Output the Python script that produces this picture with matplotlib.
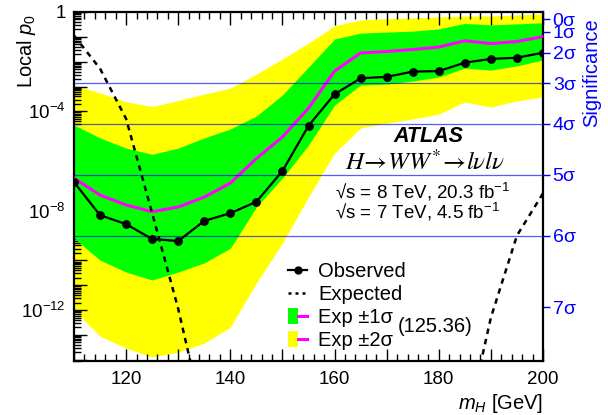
import math
import numpy as np
import matplotlib
matplotlib.use('Agg')
import matplotlib.pyplot as plt
from matplotlib.lines import Line2D
from matplotlib.patches import Patch
from matplotlib.legend_handler import HandlerTuple
from matplotlib.ticker import FixedLocator, FuncFormatter, NullFormatter, MultipleLocator, NullLocator

plt.rcParams['font.family'] = ['Liberation Sans', 'DejaVu Sans']
plt.rcParams['mathtext.fontset'] = 'custom'
plt.rcParams['mathtext.rm'] = 'Liberation Sans'
plt.rcParams['mathtext.it'] = 'Liberation Sans:italic'
plt.rcParams['mathtext.bf'] = 'Liberation Sans:bold'

# ---------------- data (log10 of local p0) ----------------
mass = [110, 115, 120, 125, 130, 135, 140, 145, 150, 155, 160, 165, 170, 175, 180, 185, 190, 195, 200]
obs_log10 = [-6.85, -8.18, -8.54, -9.14, -9.22, -8.41, -8.10, -7.64, -6.40, -4.58, -3.31,
             -2.67, -2.61, -2.40, -2.38, -2.04, -1.89, -1.84, -1.64]
exp_log10 = [-0.95, -2.28, -4.30, -8.10, -11.95, -16.5, -20.0, -23.0, -25.0, -27.0, -28.0,
             -28.0, -27.0, -25.0, -22.0, -17.0, -12.3, -9.0, -7.3]
med125_log10 = [-6.69, -7.37, -7.77, -8.04, -7.85, -7.45, -6.89, -5.90, -5.03, -3.87, -2.38,
                -1.65, -1.59, -1.51, -1.41, -1.16, -1.27, -1.19, -0.99]
up1_log10 = [-4.55, -5.07, -5.48, -5.73, -5.48, -5.07, -4.71, -4.19, -3.34, -2.22, -1.09,
             -0.85, -0.81, -0.77, -0.68, -0.46, -0.52, -0.48, -0.43]
dn1_log10 = [-9.10, -9.99, -10.47, -10.79, -10.47, -10.10, -9.51, -7.85, -6.69, -5.36, -3.75,
             -2.94, -2.90, -2.78, -2.62, -2.26, -2.34, -2.17, -1.93]
up2_log10 = [-2.94, -3.26, -3.61, -3.81, -3.56, -3.31, -3.06, -2.50, -1.89, -1.25, -0.56,
             -0.32, -0.26, -0.24, -0.20, -0.16, -0.16, -0.12, -0.08]
dn2_log10 = [-12.0, -13.05, -13.53, -13.89, -13.69, -13.33, -12.69, -10.91, -9.30, -7.45, -5.68,
             -4.67, -4.47, -4.31, -4.11, -3.62, -3.83, -3.58, -3.42]

sigma_levels = [0, 1, 2, 3, 4, 5, 6, 7]
sigma_labels = ['0σ', '1σ', '2σ', '3σ', '4σ', '5σ', '6σ', '7σ']
sigma_lines = [3, 4, 5, 6]
xticks_labeled = [120, 140, 160, 180, 200]
yticks_labeled = {0: '1', -4: '$10^{-4}$', -8: '$10^{-8}$', -12: '$10^{-12}$'}

legend_labels = ['Observed', 'Expected', 'Exp ±1σ', 'Exp ±2σ']
mass_label = '(125.36)'

# ---------------- drawing ----------------
def to_p(a):
    return 10.0 ** np.asarray(a, dtype=float)

def sig_to_p(n):
    return 0.5 * math.erfc(n / math.sqrt(2.0))

GREEN = '#00ff00'
YELLOW = '#ffff00'
MAGENTA = '#ff00ff'
BLUE = '#0000ff'

W, H = 608, 415
fig = plt.figure(figsize=(W / 100, H / 100), dpi=100)
L, R, T, B = 74, 543, 12, 361
ax = fig.add_axes([L / W, 1 - B / H, (R - L) / W, (B - T) / H])

ax.set_yscale('log')
ax.set_xlim(110, 200)
ax.set_ylim(10 ** -14.05, 1.0)

ax.fill_between(mass, to_p(dn2_log10), to_p(up2_log10), color=YELLOW, lw=0, zorder=1)
ax.fill_between(mass, to_p(dn1_log10), to_p(up1_log10), color=GREEN, lw=0, zorder=2)
ax.plot(mass, to_p(med125_log10), color=MAGENTA, lw=2.2, zorder=3)

for s in sigma_lines:
    ax.axhline(sig_to_p(s), color=BLUE, lw=0.9, alpha=0.65, zorder=4)

ax.plot(mass, to_p(exp_log10), color='black', lw=1.8, ls=(0, (2.2, 2.0)), zorder=5)
ax.plot(mass, to_p(obs_log10), color='black', lw=1.6, marker='o', ms=5.3, zorder=6)

# axes ticks
ax.xaxis.set_major_locator(MultipleLocator(10))
ax.xaxis.set_minor_locator(MultipleLocator(2))
ax.xaxis.set_major_formatter(FuncFormatter(lambda v, p: ('%d' % round(v)) if round(v) in xticks_labeled else ''))
decades = list(range(-14, 1))
ax.yaxis.set_major_locator(FixedLocator([10.0 ** d for d in decades]))
ax.yaxis.set_minor_locator(FixedLocator([k * 10.0 ** d for d in range(-15, 0) for k in range(2, 10)]))
ax.yaxis.set_minor_formatter(NullFormatter())
ax.yaxis.set_major_formatter(FuncFormatter(lambda v, p: yticks_labeled.get(int(round(math.log10(v))), '')))

ax.tick_params(which='both', direction='in', top=True, right=True, width=1.0, colors='black')
ax.tick_params(which='major', length=9)
ax.tick_params(which='minor', length=5)
ax.tick_params(axis='x', which='major', labelsize=13.5, pad=7)
ax.tick_params(axis='y', which='major', labelsize=13.5, pad=6)
for sp in ax.spines.values():
    sp.set_linewidth(1.6)

# right significance axis
tw = ax.twinx()
tw.set_yscale('log')
tw.set_ylim(ax.get_ylim())
tw.yaxis.set_major_locator(FixedLocator([sig_to_p(s) for s in sigma_levels]))
tw.yaxis.set_minor_locator(NullLocator())
tw.set_yticklabels(sigma_labels)
tw.tick_params(axis='y', which='major', direction='out', length=5, width=1.0, colors=BLUE,
               labelcolor=BLUE, labelsize=14, pad=2)
for sp in tw.spines.values():
    sp.set_visible(False)

# legend
handles = [
    Line2D([], [], color='black', lw=1.6, marker='o', ms=5),
    Line2D([], [], color='black', lw=1.8, ls=(0, (1.2, 1.6))),
    (Patch(facecolor=GREEN, edgecolor='none'), Line2D([], [], color=MAGENTA, lw=2.2)),
    (Patch(facecolor=YELLOW, edgecolor='none'), Line2D([], [], color=MAGENTA, lw=2.2)),
]
leg = ax.legend(handles, legend_labels, loc='upper left',
                bbox_to_anchor=((288 - L) / (R - L), (B - 262) / (B - T)),
                frameon=False, fontsize=14.5, handlelength=0.95, handleheight=0.85,
                handletextpad=0.55, labelspacing=0.2, borderpad=0, borderaxespad=0,
                handler_map={tuple: HandlerTuple(ndivide=None)})
leg.set_zorder(10)

fig.text(398 / W, 1 - 326 / H, mass_label, fontsize=14.5, ha='left', va='center')

# labels
fig.text(428 / W, 1 - 137 / H, 'ATLAS', fontsize=15.5, fontweight='bold', fontstyle='italic',
         ha='center', va='center')
fig.text(425 / W, 1 - 162 / H, r'$H\!\rightarrow\! WW^{*}\!\rightarrow\! l\nu l\nu$',
         math_fontfamily='stix', fontsize=18, ha='center', va='center')
fig.text(335 / W, 1 - 192 / H, '√s = 8 TeV, 20.3 fb$^{-1}$', fontsize=13.5, ha='left', va='center')
fig.text(335 / W, 1 - 212 / H, '√s = 7 TeV, 4.5 fb$^{-1}$', fontsize=13.5, ha='left', va='center')

fig.text(26 / W, 1 - 14 / H, 'Local $p_0$', rotation=90, fontsize=14.5, ha='center', va='top')
fig.text(R / W, 1 - 403 / H, '$m_H$ [GeV]', fontsize=14.5, ha='right', va='center')
fig.text(592 / W, 1 - 18 / H, 'Significance', rotation=90, fontsize=14.5, color=BLUE,
         ha='center', va='top')

fig.savefig('out.png', dpi=100)
